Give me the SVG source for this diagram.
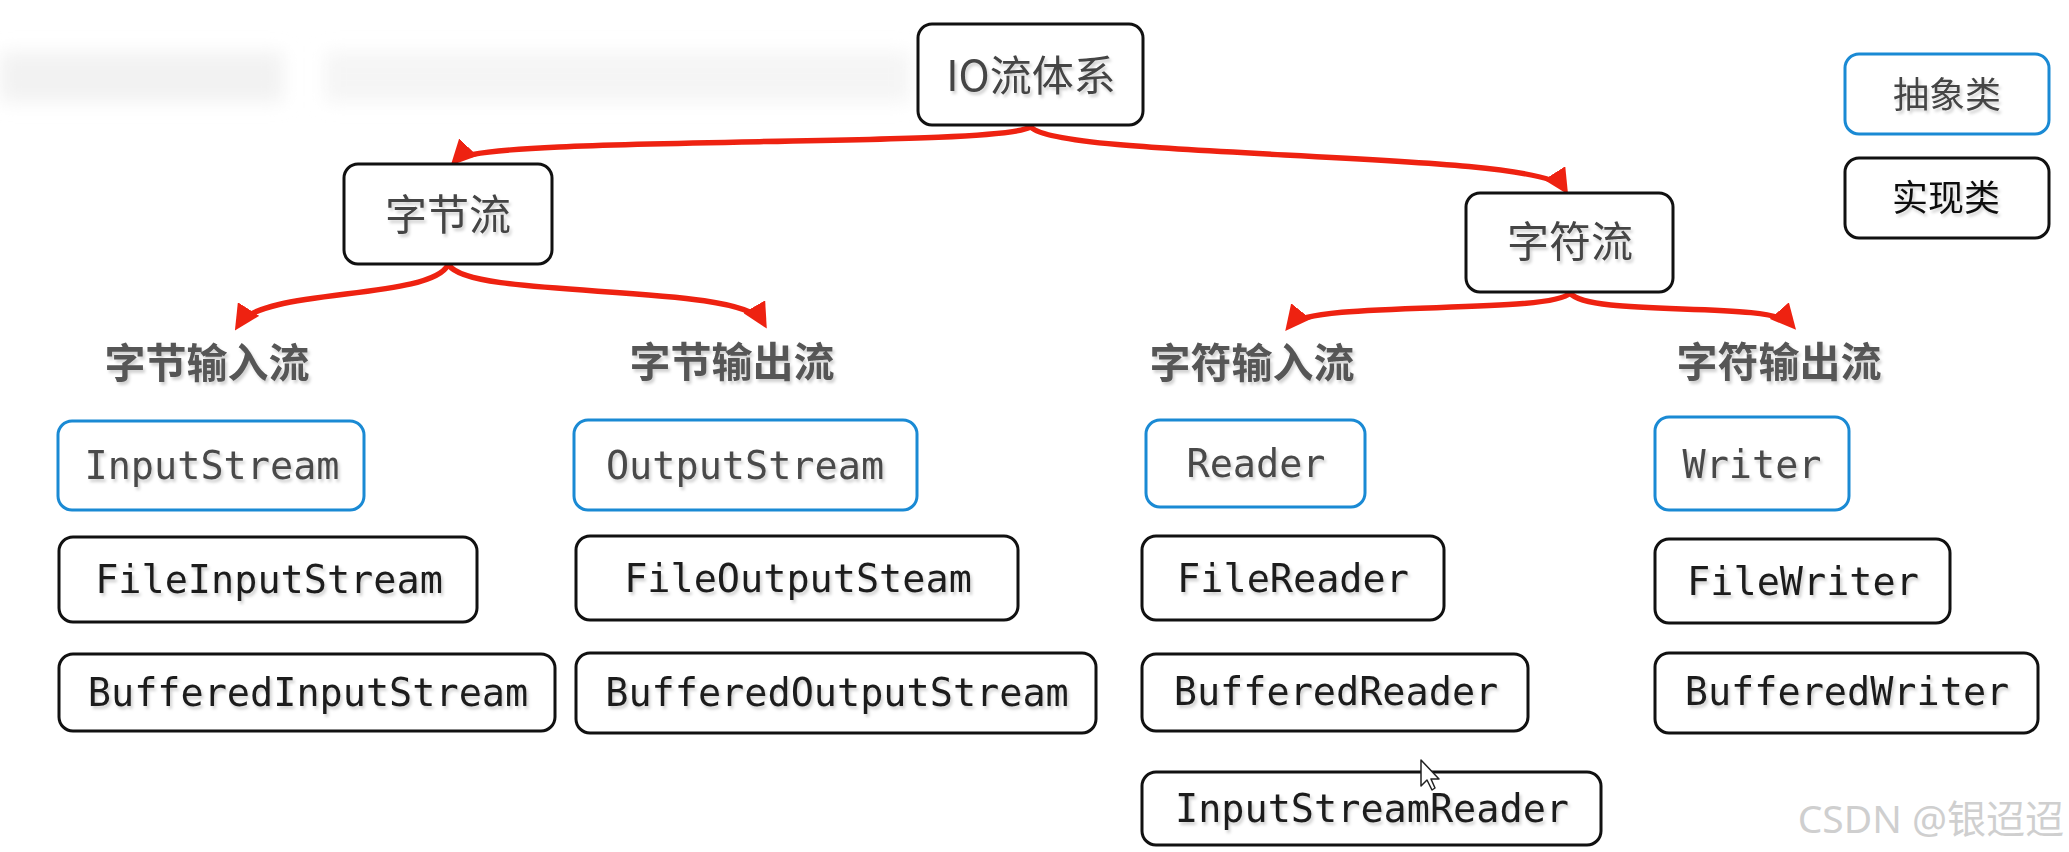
<svg xmlns="http://www.w3.org/2000/svg" width="2069" height="852" viewBox="0 0 2069 852">
<defs>
<style>
.box{fill:#fff;stroke:#111;stroke-width:3}
.abs{fill:#fff;stroke:#1a8ad4;stroke-width:3}
.cjk{font-family:"Noto Sans CJK SC","Noto Sans",sans-serif;text-anchor:middle}
.title{font-size:42px;fill:#444;filter:url(#ts)}
.lbl{font-size:41px;font-weight:bold;fill:#575757;filter:url(#ts)}
.leg{font-size:36px;filter:url(#ts)}
.code{font-family:"DejaVu Sans Mono","Liberation Mono",monospace;font-size:38.5px;text-anchor:middle;filter:url(#ts)}
.ca{fill:#4a4a4a}
.ci{fill:#1c1c1c}
.arrow{fill:none;stroke:#ee2211;stroke-width:5.5;stroke-linecap:round;marker-end:url(#ah)}
</style>
<filter id="ts" x="-10%" y="-20%" width="120%" height="150%">
<feDropShadow dx="2" dy="3" stdDeviation="1.5" flood-color="#000" flood-opacity="0.18"/>
</filter>
<filter id="bl" x="-20%" y="-50%" width="140%" height="200%">
<feGaussianBlur stdDeviation="9"/>
</filter>
<marker id="ah" viewBox="0 0 10 10" refX="7" refY="5" markerWidth="4.6" markerHeight="4.6" orient="auto">
<path d="M0,0 L10,5 L0,10 Z" fill="#ee2211"/>
</marker>
</defs>
<rect width="2069" height="852" fill="#fff"/>
<g id="bg-blur" filter="url(#bl)">
<rect x="0" y="52" width="283" height="50" fill="#f2f2f2"/>
<rect x="325" y="52" width="585" height="50" fill="#f5f5f5"/>
</g>

<g id="connectors">
<path class="arrow" d="M1030,127 C1000,148 480,135 456,160"/>
<path class="arrow" d="M1031,127 C1060,160 1540,150 1564,188"/>
<path class="arrow" d="M448,265 C430,300 262,288 239,324"/>
<path class="arrow" d="M449,265 C470,300 740,282 763,322"/>
<path class="arrow" d="M1570,293 C1550,315 1310,300 1290,325"/>
<path class="arrow" d="M1570,293 C1590,318 1770,300 1791,324"/>
</g>

<g id="io"><rect class="box" x="918" y="24" width="225" height="101" rx="14"/><text class="cjk title" x="1031" y="91">IO流体系</text></g>
<g id="byte"><rect class="box" x="344" y="164" width="208" height="100" rx="14"/><text class="cjk title" x="448" y="230">字节流</text></g>
<g id="char"><rect class="box" x="1466" y="193" width="207" height="99" rx="14"/><text class="cjk title" x="1570" y="257">字符流</text></g>

<g id="legend-abstract"><rect class="abs" x="1845" y="54" width="204" height="80" rx="14"/><text class="cjk leg" x="1947" y="108" fill="#444">抽象类</text></g>
<g id="legend-impl"><rect class="box" x="1845" y="158" width="204" height="80" rx="14"/><text class="cjk leg" x="1946" y="211" fill="#111">实现类</text></g>

<g id="lbl-byte-in"><text class="cjk lbl" x="207" y="378">字节输入流</text></g>
<g id="lbl-byte-out"><text class="cjk lbl" x="732" y="377">字节输出流</text></g>
<g id="lbl-char-in"><text class="cjk lbl" x="1252" y="378">字符输入流</text></g>
<g id="lbl-char-out"><text class="cjk lbl" x="1779" y="377">字符输出流</text></g>

<g id="InputStream"><rect class="abs" x="58" y="421" width="306" height="89" rx="14"/><text class="code ca" x="212" y="479">InputStream</text></g>
<g id="FileInputStream"><rect class="box" x="59" y="537" width="418" height="85" rx="14"/><text class="code ci" x="269" y="593">FileInputStream</text></g>
<g id="BufferedInputStream"><rect class="box" x="59" y="654" width="496" height="77" rx="14"/><text class="code ci" x="308" y="706">BufferedInputStream</text></g>

<g id="OutputStream"><rect class="abs" x="574" y="420" width="343" height="90" rx="14"/><text class="code ca" x="745" y="479">OutputStream</text></g>
<g id="FileOutputSteam"><rect class="box" x="576" y="536" width="442" height="84" rx="14"/><text class="code ci" x="798" y="592">FileOutputSteam</text></g>
<g id="BufferedOutputStream"><rect class="box" x="576" y="653" width="520" height="80" rx="14"/><text class="code ci" x="837" y="706">BufferedOutputStream</text></g>

<g id="Reader"><rect class="abs" x="1146" y="420" width="219" height="87" rx="14"/><text class="code ca" x="1256" y="477">Reader</text></g>
<g id="FileReader"><rect class="box" x="1142" y="536" width="302" height="84" rx="14"/><text class="code ci" x="1293" y="592">FileReader</text></g>
<g id="BufferedReader"><rect class="box" x="1142" y="654" width="386" height="77" rx="14"/><text class="code ci" x="1336" y="705">BufferedReader</text></g>
<g id="InputStreamReader"><rect class="box" x="1142" y="772" width="459" height="73" rx="14"/><text class="code ci" x="1372" y="822">InputStreamReader</text></g>

<g id="Writer"><rect class="abs" x="1655" y="417" width="194" height="93" rx="14"/><text class="code ca" x="1752" y="478">Writer</text></g>
<g id="FileWriter"><rect class="box" x="1655" y="539" width="295" height="84" rx="14"/><text class="code ci" x="1803" y="595">FileWriter</text></g>
<g id="BufferedWriter"><rect class="box" x="1655" y="653" width="383" height="80" rx="14"/><text class="code ci" x="1847" y="705">BufferedWriter</text></g>

<g id="cursor"><path d="M1421,760 L1421,786 L1427,780 L1432,790 L1435,788 L1431,779 L1439,779 Z" fill="#fff" stroke="#222" stroke-width="1.5" stroke-linejoin="round"/></g>
<g id="watermark"><text x="2064" y="833" font-family="'Noto Sans','Noto Sans CJK SC',sans-serif" font-size="39" fill="#cfcfcf" text-anchor="end">CSDN @银迢迢</text></g>
</svg>
